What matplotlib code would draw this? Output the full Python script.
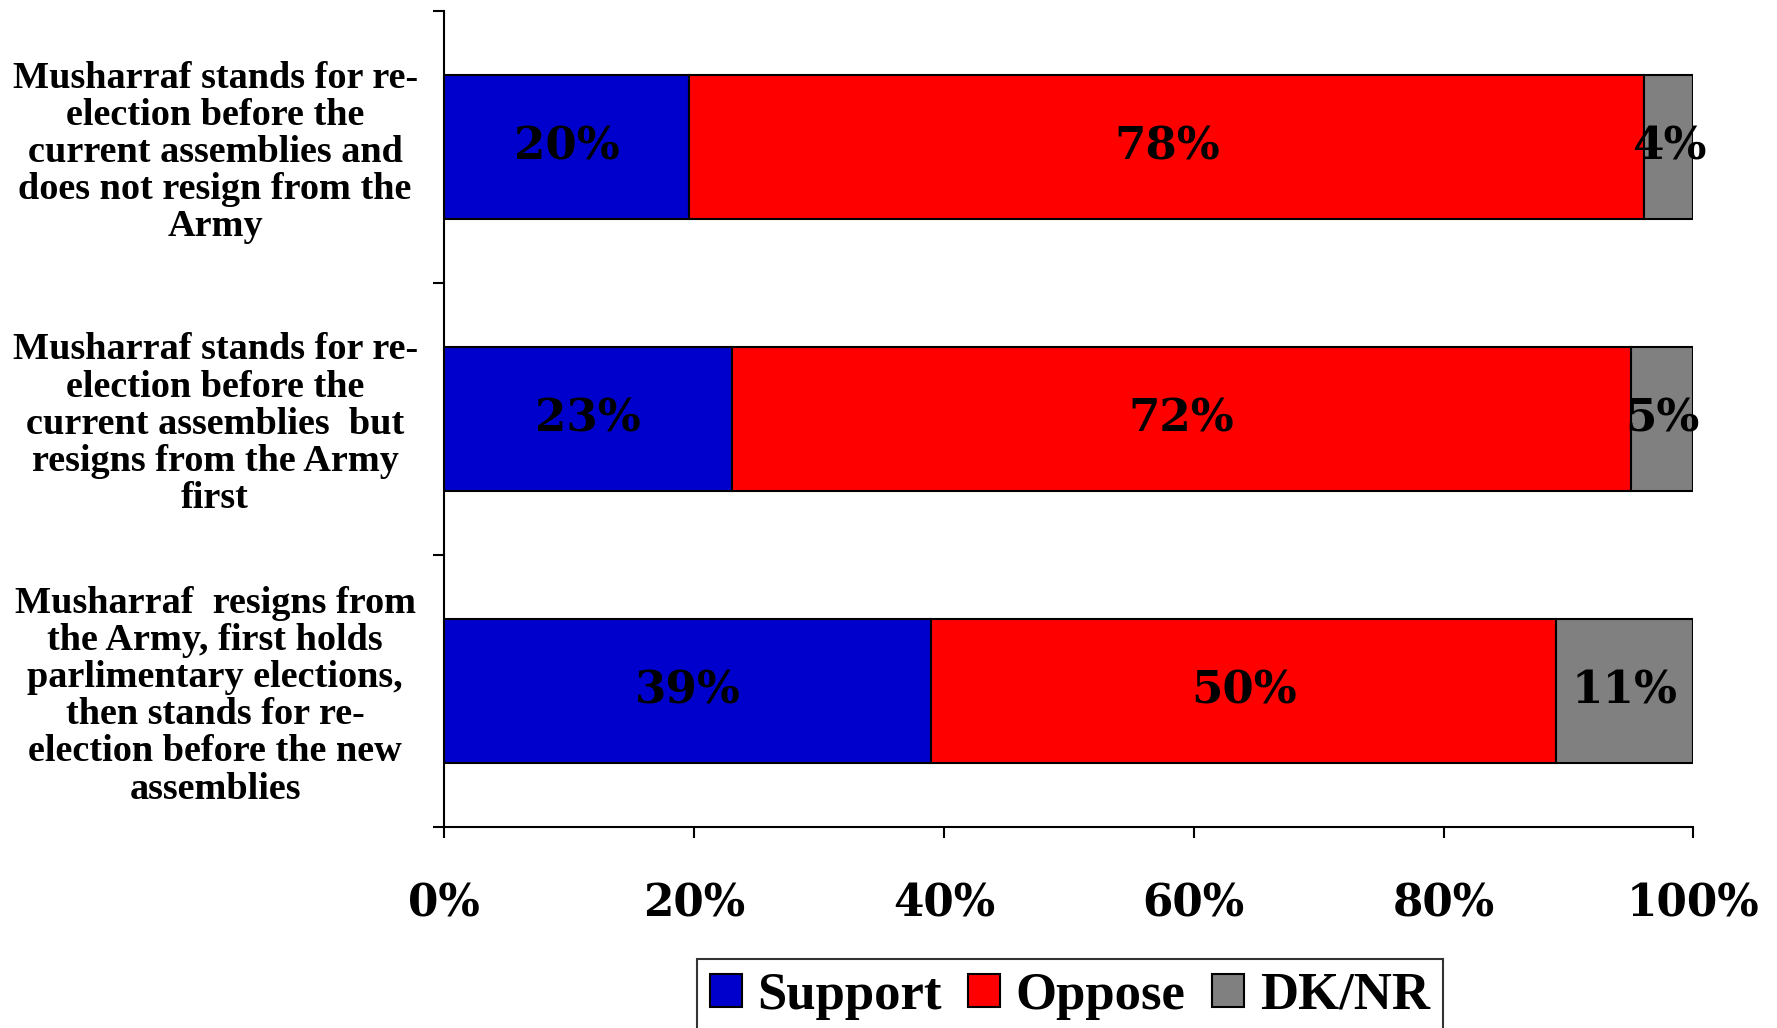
import matplotlib.pyplot as plt
import numpy as np

# survey data (percent)
categories = [
    'Musharraf stands for re-\nelection before the\ncurrent assemblies and\ndoes not resign from the\nArmy',
    'Musharraf stands for re-\nelection before the\ncurrent assemblies  but\nresigns from the Army\nfirst',
    'Musharraf  resigns from\nthe Army, first holds\nparlimentary elections,\nthen stands for re-\nelection before the new\nassemblies',
]
support = [20, 23, 39]
oppose = [78, 72, 50]
dknr = [4, 5, 11]
series_names = ['Support', 'Oppose', 'DK/NR']
colors = ['#0000CC', '#FF0000', '#808080']

num_font = 'DejaVu Serif'
txt_font = 'Liberation Serif'

fig = plt.figure(figsize=(17.77, 10.28), dpi=100)
ax = fig.add_axes([0.25, 0.1955, 0.703, 0.7935])

vals = np.array([support, oppose, dknr], dtype=float)
shares = vals / vals.sum(axis=0) * 100
ypos = np.arange(len(categories))[::-1] + 0.5

left = np.zeros(len(categories))
for i, name in enumerate(series_names):
    bars = ax.barh(ypos, shares[i], left=left, height=0.53, color=colors[i],
                   edgecolor='black', linewidth=1.5, label=name)
    for b, v in zip(bars, vals[i]):
        ax.text(b.get_x() + b.get_width() / 2, b.get_y() + b.get_height() / 2,
                f'{v:.0f}%', ha='center', va='center', fontsize=32.5,
                fontweight='bold', family=num_font)
    left += shares[i]

ax.set_xlim(0, 100)
ax.set_ylim(0, 3)
ax.set_xticks(np.arange(0, 101, 20))
ax.set_xticklabels([f'{t}%' for t in range(0, 101, 20)], fontsize=31.5,
                   fontweight='bold', family=num_font)
ax.tick_params(axis='x', direction='out', length=8, width=1.5, pad=32)

ax.set_yticks(ypos)
ax.set_yticklabels(categories, fontsize=27.5, fontweight='bold', family=txt_font,
                   ha='center', linespacing=1.08)
ax.tick_params(axis='y', which='major', length=0, pad=165)
ax.set_yticks([0, 1, 2, 3], minor=True)
ax.tick_params(axis='y', which='minor', direction='out', length=8, width=1.5)

for s in ['top', 'right']:
    ax.spines[s].set_visible(False)
for s in ['left', 'bottom']:
    ax.spines[s].set_linewidth(1.5)

leg = fig.legend(loc='upper center', bbox_to_anchor=(0.602, 0.093), ncol=3,
                 prop={'family': txt_font, 'weight': 'bold', 'size': 38},
                 frameon=True, fancybox=False, edgecolor='black',
                 handlelength=0.6, handleheight=0.6, handletextpad=0.3,
                 columnspacing=0.5, borderpad=0.25)
leg.get_frame().set_linewidth(1.5)

fig.savefig('out.png', dpi=100)
